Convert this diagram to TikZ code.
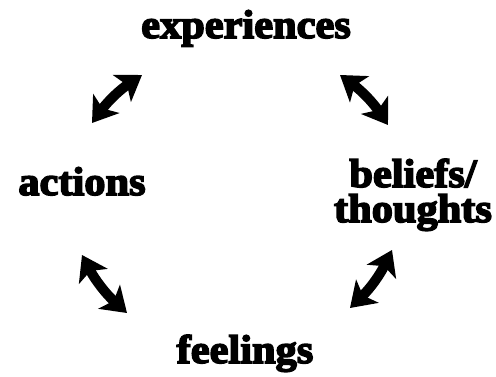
\documentclass[tikz,border=0pt]{standalone}
\usepackage{fontspec}
\newfontfamily\cyclefont{Liberation Serif}[FakeStretch=1.06,BoldFeatures={FakeBold=4}]
\usepackage{tikz}
\usetikzlibrary{arrows.meta}
\tikzset{
  cyclelabel/.style={font=\cyclefont\bfseries\fontsize{40}{35}\selectfont, inner sep=0pt, align=center, anchor=base},
  twoway/.style={black, line width=10pt, {Stealth[length=24pt,width=32pt,inset=6pt]}-{Stealth[length=24pt,width=32pt,inset=6pt]}}
}
\begin{document}
\begin{tikzpicture}[x=1pt,y=1pt]
  \useasboundingbox (0,0) rectangle (496,377);
  \node[cyclelabel] (exp) at (246,339) {experiences};
  \node[cyclelabel] (act) at (82,182) {actions};
  \node[cyclelabel] (bel) at (413,155) {beliefs/\\thoughts};
  \node[cyclelabel] (feel) at (245,14) {feelings};
  \coordinate (tl-a) at (92,254);
  \coordinate (tl-b) at (142,302);
  \coordinate (tr-a) at (340,302);
  \coordinate (tr-b) at (388,252);
  \coordinate (br-a) at (392,127);
  \coordinate (br-b) at (350,69);
  \coordinate (bl-a) at (127,64);
  \coordinate (bl-b) at (82,122);
  \draw[twoway] (tl-a) to[bend left=10] (tl-b);
  \draw[twoway] (tr-a) to[bend left=10] (tr-b);
  \draw[twoway] (br-a) to[bend left=10] (br-b);
  \draw[twoway] (bl-a) to[bend left=10] (bl-b);
\end{tikzpicture}
\end{document}
